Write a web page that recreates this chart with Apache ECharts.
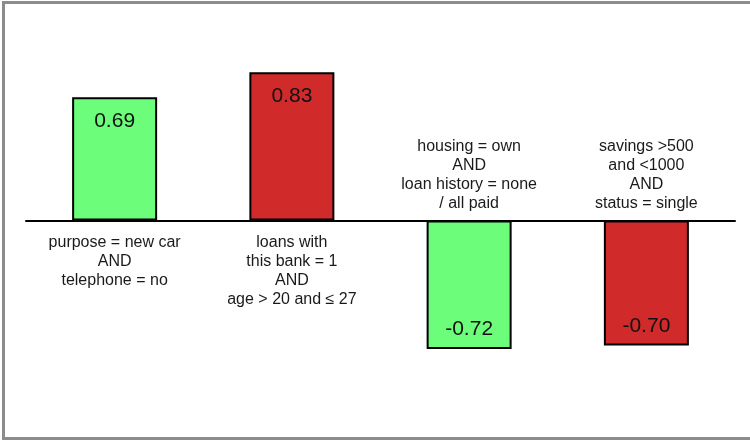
<!DOCTYPE html>
<html>
<head>
<meta charset="utf-8">
<script src="https://cdn.jsdelivr.net/npm/echarts@6/dist/echarts.min.js"></script>
<style>
  html, body { margin: 0; padding: 0; background: #ffffff; }
  #frame { position: absolute; left: 2px; top: 1px; width: 748px; height: 439px; box-sizing: border-box;
           border-left: 3px solid #8c8c8c; border-top: 3px solid #8c8c8c; border-bottom: 3px solid #8c8c8c; }
  #chart { position: absolute; left: 0; top: 0; width: 750px; height: 440px; }
</style>
</head>
<body>
<div id="frame"></div>
<div id="chart"></div>
<script>
const categories = [
  "purpose = new car\nAND\ntelephone = no",
  "loans with\nthis bank = 1\nAND\nage > 20 and \u2264 27",
  "housing = own\nAND\nloan history = none\n/ all paid",
  "savings >500\nand <1000\nAND\nstatus = single"
];
const values = [0.69, 0.83, -0.72, -0.70];
const barColors = ["#6cfd7b", "#d12a2b"];
const colorIndex = [0, 1, 0, 1];

const chart = echarts.init(document.getElementById('chart'), null, { renderer: 'canvas' });

const labelFont = { fontFamily: 'Liberation Sans, Arial, sans-serif', fontSize: 16, lineHeight: 19, color: '#1a1a1a' };
const valueFont = { fontFamily: 'Liberation Sans, Arial, sans-serif', fontSize: 21, lineHeight: 21, color: '#111' };

function barData(positive) {
  return values.map(function (v, i) {
    const keep = positive ? v >= 0 : v < 0;
    if (!keep) return '-';
    return {
      value: v,
      itemStyle: { color: barColors[colorIndex[i]], borderColor: '#000', borderWidth: 2 },
      label: Object.assign({
        show: true,
        position: positive ? 'insideTop' : 'insideBottom',
        distance: positive ? 13 : 9,
        formatter: v.toFixed(2)
      }, valueFont)
    };
  });
}

const option = {
  animation: false,
  backgroundColor: 'transparent',
  grid: [
    { left: 26, right: 15, top: 42, height: 178.5, containLabel: false, outerBoundsMode: 'none' },
    { left: 26, right: 15, top: 220.5, height: 178.5, containLabel: false, outerBoundsMode: 'none' }
  ],
  xAxis: [
    {
      type: 'category',
      gridIndex: 0,
      data: categories,
      position: 'bottom',
      axisLine: { show: true, onZero: false, lineStyle: { color: '#000', width: 2 } },
      axisTick: { show: false },
      splitLine: { show: false },
      axisLabel: Object.assign({
        interval: 0,
        margin: 13,
        formatter: function (v, i) { return values[i] >= 0 ? v : ''; }
      }, labelFont)
    },
    {
      type: 'category',
      gridIndex: 1,
      data: categories,
      position: 'top',
      axisLine: { show: false, onZero: false },
      axisTick: { show: false },
      splitLine: { show: false },
      axisLabel: Object.assign({
        interval: 0,
        margin: 7,
        formatter: function (v, i) { return values[i] < 0 ? v : ''; }
      }, labelFont)
    }
  ],
  yAxis: [
    { type: 'value', gridIndex: 0, min: 0, max: 1, show: false, splitLine: { show: false } },
    { type: 'value', gridIndex: 1, min: -1, max: 0, show: false, splitLine: { show: false } }
  ],
  series: [
    { type: 'bar', xAxisIndex: 0, yAxisIndex: 0, barWidth: 85, z: 1, data: barData(true) },
    { type: 'bar', xAxisIndex: 1, yAxisIndex: 1, barWidth: 85, z: 1, data: barData(false) }
  ]
};
chart.setOption(option);
</script>
</body>
</html>
